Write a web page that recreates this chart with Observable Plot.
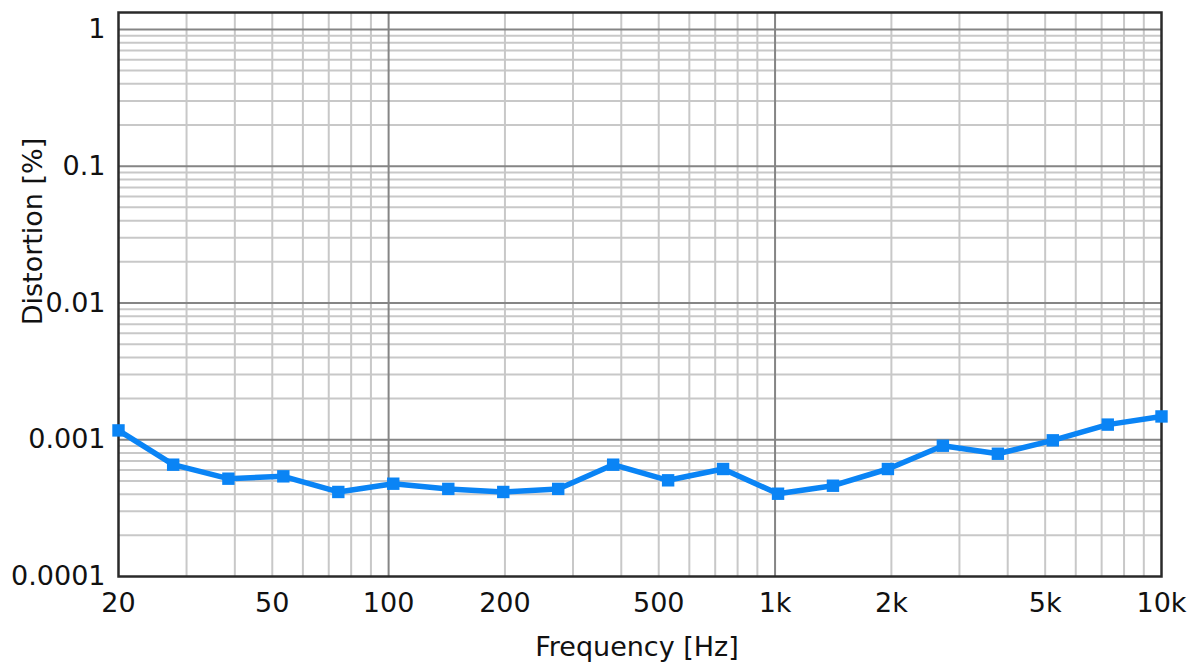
<!DOCTYPE html>
<html>
<head>
<meta charset="utf-8">
<script src="https://cdn.jsdelivr.net/npm/d3@7"></script>
<script src="https://cdn.jsdelivr.net/npm/@observablehq/plot@0.6"></script>
<style>
  html, body { margin: 0; padding: 0; background: #fff; }
  #chart svg { display: block; }
</style>
</head>
<body>
<div id="chart"></div>
<script>
// Measured series
const frequency = [20, 27.7, 38.5, 53.4, 74.1, 102.8, 142.7, 198, 274.7, 381.1, 528.8, 733.6, 1018, 1412, 1959, 2718, 3772, 5233, 7260, 10000];
const distortion = [0.00117, 0.000657, 0.000519, 0.00054, 0.000415, 0.000477, 0.000437, 0.000415, 0.000437, 0.000657, 0.000505, 0.000611, 0.000403, 0.000461, 0.000611, 0.000904, 0.00079, 0.00099, 0.00129, 0.00148];

// Axis ticks and labels
const xTickValues = [20, 50, 100, 200, 500, 1000, 2000, 5000, 10000];
const xTickLabels = ["20", "50", "100", "200", "500", "1k", "2k", "5k", "10k"];
const yTickValues = [1, 0.1, 0.01, 0.001, 0.0001];
const yTickLabels = ["1", "0.1", "0.01", "0.001", "0.0001"];

// Grid lines
const xMajorGrid = [100, 1000];
const xMinorGrid = [30, 40, 50, 60, 70, 80, 90, 200, 300, 400, 500, 600, 700, 800, 900, 2000, 3000, 4000, 5000, 6000, 7000, 8000, 9000];
const yMajorGrid = [1, 0.1, 0.01, 0.001];
const yMinorGrid = [0.0002, 0.0003, 0.0004, 0.0005, 0.0006, 0.0007, 0.0008, 0.0009,
                    0.002, 0.003, 0.004, 0.005, 0.006, 0.007, 0.008, 0.009,
                    0.02, 0.03, 0.04, 0.05, 0.06, 0.07, 0.08, 0.09,
                    0.2, 0.3, 0.4, 0.5, 0.6, 0.7, 0.8, 0.9];

const data = frequency.map((f, i) => ({f, d: distortion[i]}));
const xTicks = xTickValues.map((v, i) => ({v, label: xTickLabels[i]}));
const yTicks = yTickValues.map((v, i) => ({v, label: yTickLabels[i]}));
const blue = "#0a84f5";
const ink = "#111";

const chart = Plot.plot({
  width: 1200,
  height: 664,
  marginLeft: 118,
  marginRight: 39,
  marginTop: 12,
  marginBottom: 88,
  style: {fontFamily: "'DejaVu Sans', sans-serif", fontSize: "27px", color: ink, background: "#fff"},
  x: {type: "log", domain: [20, 10000], axis: null},
  y: {type: "log", domain: [0.0001, 1.33], axis: null},
  marks: [
    Plot.ruleX(xMinorGrid, {stroke: "#c8c8c8", strokeWidth: 2}),
    Plot.ruleY(yMinorGrid, {stroke: "#c8c8c8", strokeWidth: 2}),
    Plot.ruleX(xMajorGrid, {stroke: "#858585", strokeWidth: 2}),
    Plot.ruleY(yMajorGrid, {stroke: "#858585", strokeWidth: 2}),
    Plot.frame({stroke: "#2a2a2a", strokeWidth: 2.5}),
    Plot.text(xTicks, {x: "v", text: "label", frameAnchor: "bottom", textAnchor: "middle", lineAnchor: "top", dy: 16, fontSize: 27, fill: ink}),
    Plot.text(yTicks, {y: "v", text: "label", frameAnchor: "left", textAnchor: "end", lineAnchor: "middle", dx: -13, fontSize: 27, fill: ink}),
    Plot.text(["Frequency [Hz]"], {frameAnchor: "bottom", textAnchor: "middle", lineAnchor: "bottom", dx: -3, dy: 79, fontSize: 27, fill: ink}),
    Plot.text(["Distortion [%]"], {frameAnchor: "left", textAnchor: "middle", rotate: -90, dx: -85, dy: -63, fontSize: 27, fill: ink}),
    Plot.line(data, {x: "f", y: "d", stroke: blue, strokeWidth: 5.5}),
    Plot.dot(data, {x: "f", y: "d", symbol: "square", r: 7, fill: blue, stroke: "none"})
  ]
});
document.getElementById("chart").appendChild(chart);
</script>
</body>
</html>
